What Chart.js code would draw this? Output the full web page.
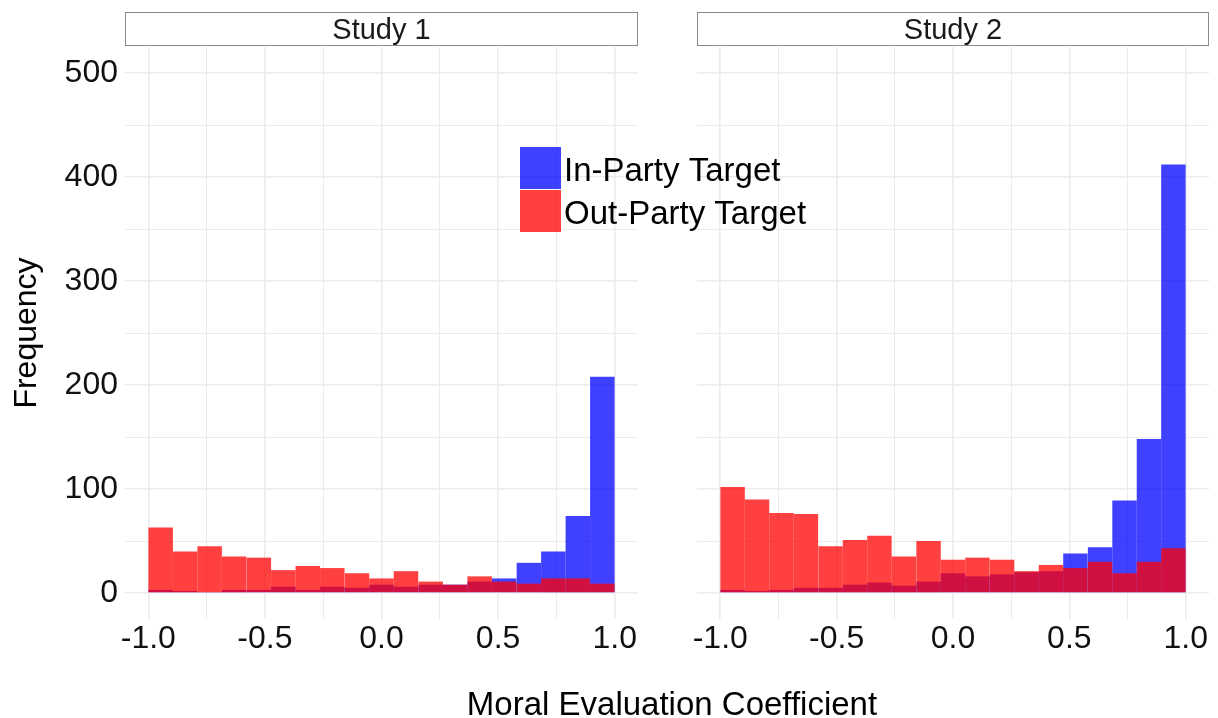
<!DOCTYPE html>
<html>
<head>
<meta charset="utf-8">
<title>Moral Evaluation Coefficient</title>
<script src="https://cdn.jsdelivr.net/npm/chart.js@4.4.1/dist/chart.umd.min.js"></script>
<style>
  html, body { margin: 0; padding: 0; background: #fff; }
  #wrap { position: relative; width: 1218px; height: 718px; }
  #wrap canvas { position: absolute; left: 0; top: 0; }
</style>
</head>
<body>
<div id="wrap">
  <canvas id="study2" width="1218" height="718"></canvas>
  <canvas id="study1" width="1218" height="718"></canvas>
</div>
<script>
// Histogram bins (19 bins over -1..1), counts per bin
const binCenters = [-0.947, -0.842, -0.737, -0.632, -0.526, -0.421, -0.316, -0.211, -0.105, 0,
                    0.105, 0.211, 0.316, 0.421, 0.526, 0.632, 0.737, 0.842, 0.947];

const study1InParty  = [3, 2, 1, 3, 3, 6, 3, 6, 5, 8, 6, 8, 8, 11, 14, 29, 40, 74, 208];
const study1OutParty = [63, 40, 45, 35, 34, 22, 26, 24, 19, 14, 21, 11, 8, 16, 11, 9, 14, 14, 9];

const study2InParty  = [3, 2, 3, 5, 5, 8, 10, 7, 11, 19, 16, 18, 20, 21, 38, 44, 89, 148, 412];
const study2OutParty = [102, 90, 77, 76, 45, 51, 55, 35, 50, 32, 34, 32, 21, 27, 24, 30, 19, 30, 43];

const panelTitles = ['Study 1', 'Study 2'];
const seriesLabels = ['In-Party Target', 'Out-Party Target'];

const xTicks = [-1, -0.75, -0.5, -0.25, 0, 0.25, 0.5, 0.75, 1];
const yTicks = [0, 50, 100, 150, 200, 250, 300, 350, 400, 450, 500];

const FONT = '"Liberation Sans", Arial, Helvetica, sans-serif';
const BLUE = 'rgba(0, 0, 255, 0.75)';
const RED = 'rgba(255, 0, 0, 0.75)';
const GRID = '#ebebeb';

const isMajorX = v => Math.abs(v * 2 - Math.round(v * 2)) < 1e-9;
const isMajorY = v => v % 100 === 0;

function toPoints(values) {
  return binCenters.map((x, i) => ({ x: x, y: values[i] }));
}

// facet strip: grey-outlined box with the panel name above the plot area
const stripPlugin = {
  id: 'strip',
  afterDraw(chart, args, opts) {
    const { ctx, chartArea } = chart;
    ctx.save();
    ctx.fillStyle = '#fff';
    ctx.fillRect(chartArea.left, 13, chartArea.right - chartArea.left, 33);
    ctx.strokeStyle = '#8a8a8a';
    ctx.lineWidth = 1;
    ctx.strokeRect(chartArea.left + 0.5, 12.5, chartArea.right - chartArea.left - 1, 33);
    ctx.fillStyle = '#1a1a1a';
    ctx.font = '29px ' + FONT;
    ctx.textAlign = 'center';
    ctx.textBaseline = 'alphabetic';
    ctx.fillText(opts.text, (chartArea.left + chartArea.right) / 2, 39);
    ctx.restore();
  }
};

// legend keys inside the plot and the shared x axis title
const overlayPlugin = {
  id: 'overlay',
  afterDraw(chart) {
    const { ctx } = chart;
    const sets = chart.data.datasets;
    ctx.save();
    ctx.font = '33px ' + FONT;
    ctx.textBaseline = 'alphabetic';
    ctx.textAlign = 'left';
    sets.forEach((ds, i) => {
      const top = 147 + i * 43;
      ctx.fillStyle = ds.backgroundColor;
      ctx.fillRect(520, top, 41, 42);
      ctx.fillStyle = '#000';
      ctx.fillText(ds.label, 564, top + 34);
    });
    ctx.font = '33px ' + FONT;
    ctx.textAlign = 'center';
    ctx.fillStyle = '#000';
    ctx.fillText('Moral Evaluation Coefficient', 672, 715);
    ctx.restore();
  }
};

function makeChart(id, title, inParty, outParty, first) {
  const ctx = document.getElementById(id).getContext('2d');
  return new Chart(ctx, {
    type: 'bar',
    data: {
      datasets: [{
        label: seriesLabels[0],
        data: toPoints(inParty),
        backgroundColor: BLUE,
        order: 2
      }, {
        label: seriesLabels[1],
        data: toPoints(outParty),
        backgroundColor: RED,
        order: 1
      }]
    },
    options: {
      responsive: false,
      animation: false,
      devicePixelRatio: 1,
      layout: {
        padding: first
          ? { left: 0, right: 580, top: 47, bottom: 0 }
          : { left: 697, right: 9, top: 47, bottom: 0 }
      },
      datasets: {
        bar: {
          grouped: false,
          barPercentage: 1,
          categoryPercentage: 1,
          borderWidth: 0,
          inflateAmount: 0
        }
      },
      scales: {
        x: {
          type: 'linear',
          min: -1.1,
          max: 1.1,
          offset: false,
          afterBuildTicks: scale => { scale.ticks = xTicks.map(v => ({ value: v })); },
          afterFit: scale => { scale.height = 99; },
          border: { display: false },
          grid: {
            offset: false,
            color: GRID,
            drawTicks: false,
            lineWidth: c => (c.tick && isMajorX(c.tick.value) ? 1.6 : 1)
          },
          ticks: {
            padding: 1,
            maxRotation: 0,
            autoSkip: false,
            color: '#111',
            font: { family: FONT, size: 32 },
            callback: v => (isMajorX(v) ? v.toFixed(1) : '')
          }
        },
        y: {
          min: -25,
          max: 525,
          afterBuildTicks: scale => { scale.ticks = yTicks.map(v => ({ value: v })); },
          afterFit: scale => { scale.width = first ? 125 : 0; },
          border: { display: false },
          grid: {
            color: GRID,
            drawTicks: false,
            lineWidth: c => (c.tick && isMajorY(c.tick.value) ? 1.6 : 1)
          },
          ticks: {
            display: first,
            padding: 7,
            color: '#111',
            font: { family: FONT, size: 32 },
            callback: v => (isMajorY(v) ? String(v) : '')
          },
          title: {
            display: first,
            text: 'Frequency',
            color: '#000',
            padding: { top: 8, bottom: 0 },
            font: { family: FONT, size: 32, lineHeight: 1.2 }
          }
        }
      },
      plugins: {
        legend: { display: false },
        tooltip: { enabled: false },
        strip: { text: title }
      }
    },
    plugins: first ? [stripPlugin, overlayPlugin] : [stripPlugin]
  });
}

makeChart('study2', panelTitles[1], study2InParty, study2OutParty, false);
makeChart('study1', panelTitles[0], study1InParty, study1OutParty, true);
</script>
</body>
</html>
